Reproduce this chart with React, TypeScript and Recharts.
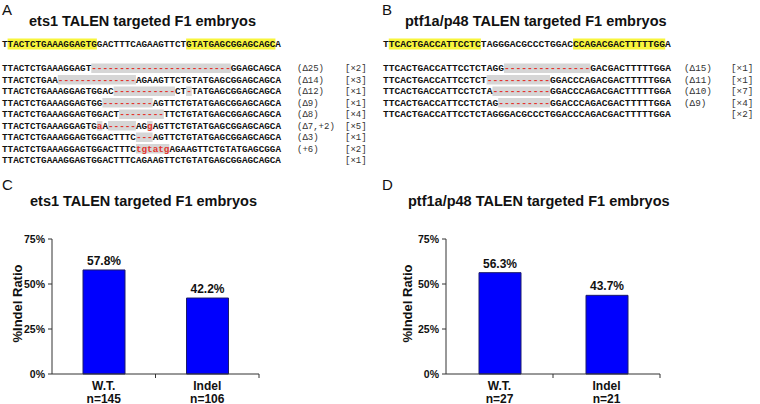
import { Bar, BarChart, LabelList, XAxis, YAxis } from 'recharts'

// ---- bar chart data ----
const categories = ['W.T.', 'Indel']
const ratioTicks = [0, 25, 50, 75]
const ets1Counts = ['n=145', 'n=106']
const ets1Ratios = [57.8, 42.2]
const ptf1aCounts = ['n=27', 'n=21']
const ptf1aRatios = [56.3, 43.7]

// ---- sequence data (lowercase / '-' = edited bases) ----
const ets1Ref = 'TTACTCTGAAAGGAGTGGACTTTCAGAAGTTCTGTATGAGCGGAGCAGCA'
const ets1Arms = [[1, 16], [33, 48]]
const ets1Alleles = [
  'TTACTCTGAAAGGAGT-------------------------GGAGCAGCA',
  'TTACTCTGAA--------------AGAAGTTCTGTATGAGCGGAGCAGCA',
  'TTACTCTGAAAGGAGTGGAC-----------CT-TATGAGCGGAGCAGCA',
  'TTACTCTGAAAGGAGTGG---------AGTTCTGTATGAGCGGAGCAGCA',
  'TTACTCTGAAAGGAGTGGACT--------TTCTGTATGAGCGGAGCAGCA',
  'TTACTCTGAAAGGAGTGaA-----AGgAGTTCTGTATGAGCGGAGCAGCA',
  'TTACTCTGAAAGGAGTGGACTTTC---AGTTCTGTATGAGCGGAGCAGCA',
  'TTACTCTGAAAGGAGTGGACTTTCtgtatgAGAAGTTCTGTATGAGCGGA',
  'TTACTCTGAAAGGAGTGGACTTTCAGAAGTTCTGTATGAGCGGAGCAGCA',
]
const ets1Changes = ['(Δ25)', '(Δ14)', '(Δ12)', '(Δ9)', '(Δ8)', '(Δ7,+2)', '(Δ3)', '(+6)', '']
const ets1Clones = ['[×2]', '[×3]', '[×1]', '[×1]', '[×4]', '[×5]', '[×1]', '[×2]', '[×1]']

const ptf1aRef = 'TTCACTGACCATTCCTCTAGGGACGCCCTGGACCCAGACGACTTTTTGGA'
const ptf1aArms = [[1, 16], [33, 48]]
const ptf1aAlleles = [
  'TTCACTGACCATTCCTCTAGG---------------GACGACTTTTTGGA',
  'TTCACTGACCATTCCTCT-----------GGACCCAGACGACTTTTTGGA',
  'TTCACTGACCATTCCTCTA----------GGACCCAGACGACTTTTTGGA',
  'TTCACTGACCATTCCTCTAG---------GGACCCAGACGACTTTTTGGA',
  'TTCACTGACCATTCCTCTAGGGACGCCCTGGACCCAGACGACTTTTTGGA',
]
const ptf1aChanges = ['(Δ15)', '(Δ11)', '(Δ10)', '(Δ9)', '']
const ptf1aClones = ['[×1]', '[×1]', '[×7]', '[×4]', '[×2]']

const SANS = '"Liberation Sans", Arial, sans-serif'
const MONO = '"Liberation Mono", "Courier New", monospace'
const INK = '#111'
const RED = '#e3342c'

const isEdit = (c: string) => c === '-' || (c >= 'a' && c <= 'z')

function runsOf(seq: string) {
  const runs: { start: number; text: string; edit: boolean }[] = []
  for (let i = 0; i < seq.length; i++) {
    const edit = isEdit(seq[i])
    const last = runs[runs.length - 1]
    if (last && last.edit === edit) last.text += seq[i]
    else runs.push({ start: i, text: seq[i], edit })
  }
  return runs
}

function SeqPanel({
  x0,
  fontSize,
  refSeq,
  arms,
  alleles,
  changes,
  clones,
  changeX,
  cloneX,
}: {
  x0: number
  fontSize: number
  refSeq: string
  arms: number[][]
  alleles: string[]
  changes: string[]
  clones: string[]
  changeX: number
  cloneX: number
}) {
  const cw = fontSize * 0.6
  const refY = 47
  const rowY = (i: number) => 71 + i * 11.5
  return (
    <g fontFamily={MONO} fontSize={fontSize}>
      {arms.map(([a, b], k) => (
        <rect key={k} x={x0 + a * cw} y={refY - 8.5} width={(b - a + 1) * cw} height={11} fill="#f8f53c" />
      ))}
      <text x={x0} y={refY} fill={INK} fontWeight="bold">
        {refSeq}
      </text>
      {alleles.map((seq, i) => {
        const runs = runsOf(seq)
        return (
          <g key={i}>
            {runs
              .filter((r) => r.edit)
              .map((r, k) => (
                <rect key={k} x={x0 + r.start * cw} y={rowY(i) - 7.5} width={r.text.length * cw} height={9.5} fill="#d6d6d6" />
              ))}
            {runs.map((r, k) => (
              <text key={k} x={x0 + r.start * cw} y={rowY(i)} fill={r.edit ? RED : INK} fontWeight="bold">
                {r.text}
              </text>
            ))}
            <text x={changeX} y={rowY(i)} fill="#333" fontSize={fontSize - 0.3}>
              {changes[i]}
            </text>
            <text x={cloneX} y={rowY(i)} fill="#333" fontSize={fontSize - 0.3}>
              {clones[i]}
            </text>
          </g>
        )
      })}
    </g>
  )
}

function CategoryTick(props: any) {
  const { x, y, payload, index, width, visibleTicksCount, counts } = props
  const half = width / visibleTicksCount / 2
  return (
    <g>
      {Number.isFinite(half) && <line x1={x + half} x2={x + half} y1={y - 4} y2={y} stroke="#333" />}
      <text x={x} y={y} textAnchor="middle" fontFamily={SANS} fontWeight="bold" fontSize={12} fill={INK}>
        <tspan x={x} dy={12}>
          {payload.value}
        </tspan>
        <tspan x={x} dy={12.5}>
          {counts[index]}
        </tspan>
      </text>
    </g>
  )
}

function RatioChart({
  ratios,
  counts,
  yAxisWidth,
  marginRight,
  labelShift,
}: {
  ratios: number[]
  counts: string[]
  yAxisWidth: number
  marginRight: number
  labelShift: number
}) {
  const data = categories.map((name, i) => ({ name, ratio: ratios[i] }))
  return (
    <BarChart width={380} height={189} data={data} margin={{ top: 24, right: marginRight, bottom: 0, left: 0 }}>
      <XAxis
        dataKey="name"
        height={30}
        axisLine={{ stroke: '#333' }}
        tickLine={false}
        tickSize={4}
        tickMargin={0}
        interval={0}
        tick={(p: any) => <CategoryTick {...p} counts={counts} />}
      />
      <YAxis
        width={yAxisWidth}
        domain={[0, 75]}
        ticks={ratioTicks}
        tickFormatter={(v: number) => `${v}%`}
        axisLine={{ stroke: '#333' }}
        tickLine={{ stroke: '#333' }}
        tickSize={4}
        tickMargin={3}
        tick={{ fontFamily: SANS, fontWeight: 'bold', fontSize: 10.5, fill: INK }}
        label={{
          content: (p: any) => {
            const vb = p.viewBox
            const cx = vb.x + vb.width / 2 + labelShift
            const cy = vb.y + vb.height / 2 - 3
            return (
              <text
                x={cx}
                y={cy}
                transform={`rotate(-90 ${cx} ${cy})`}
                textAnchor="middle"
                dominantBaseline="central"
                fontFamily={SANS}
                fontWeight="bold"
                fontSize={13}
                fill={INK}
              >
                %Indel Ratio
              </text>
            )
          },
        }}
      />
      <Bar dataKey="ratio" fill="#0000fe" stroke="#1c1c6a" strokeWidth={1} barSize={42} isAnimationActive={false}>
        <LabelList
          dataKey="ratio"
          position="top"
          offset={5}
          formatter={(v: any) => `${Number(v).toFixed(1)}%`}
          fill={INK}
          fontFamily={SANS}
          fontWeight="bold"
          fontSize={12}
        />
      </Bar>
    </BarChart>
  )
}

export default function App() {
  return (
    <div style={{ position: 'fixed', left: 0, top: 0, width: 760, height: 404, background: '#fff' }}>
      <svg width={760} height={404} style={{ position: 'absolute', left: 0, top: 0 }}>
        <g fontFamily={SANS} fill={INK}>
          <text x={2} y={15} fontSize={15}>A</text>
          <text x={29} y={26} fontSize={14.5} fontWeight="bold">ets1 TALEN targeted F1 embryos</text>
          <text x={382} y={15} fontSize={15}>B</text>
          <text x={405} y={26} fontSize={14.5} fontWeight="bold">ptf1a/p48 TALEN targeted F1 embryos</text>
          <text x={2} y={190} fontSize={15}>C</text>
          <text x={30} y={206} fontSize={14.5} fontWeight="bold">ets1 TALEN targeted F1 embryos</text>
          <text x={382} y={190} fontSize={15}>D</text>
          <text x={408} y={206} fontSize={14.5} fontWeight="bold">ptf1a/p48 TALEN targeted F1 embryos</text>
        </g>
        <SeqPanel
          x0={2}
          fontSize={9.3}
          refSeq={ets1Ref}
          arms={ets1Arms}
          alleles={ets1Alleles}
          changes={ets1Changes}
          clones={ets1Clones}
          changeX={297}
          cloneX={345}
        />
        <SeqPanel
          x0={383}
          fontSize={9.6}
          refSeq={ptf1aRef}
          arms={ptf1aArms}
          alleles={ptf1aAlleles}
          changes={ptf1aChanges}
          clones={ptf1aClones}
          changeX={684}
          cloneX={731}
        />
      </svg>
      <div style={{ position: 'absolute', left: 0, top: 215 }}>
        <RatioChart ratios={ets1Ratios} counts={ets1Counts} yAxisWidth={52} marginRight={121} labelShift={-9} />
      </div>
      <div style={{ position: 'absolute', left: 380, top: 215 }}>
        <RatioChart ratios={ptf1aRatios} counts={ptf1aCounts} yAxisWidth={66} marginRight={100} labelShift={-6} />
      </div>
    </div>
  )
}
